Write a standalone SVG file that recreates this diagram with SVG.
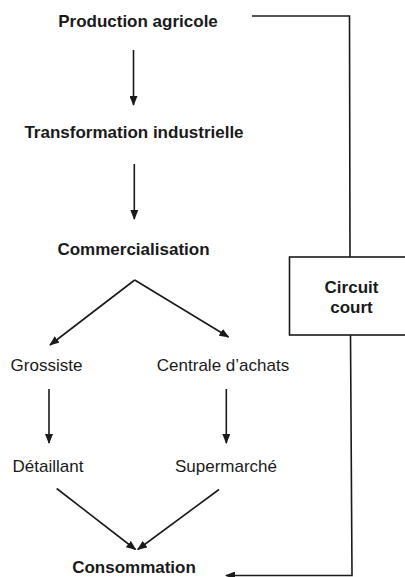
<svg xmlns="http://www.w3.org/2000/svg" width="405" height="577" viewBox="0 0 405 577">
<style>
text{font-family:"Liberation Sans",Arial,sans-serif;font-size:17px;fill:#1a1a1a}
.b{font-weight:bold}
.m{text-anchor:middle}
.ln{stroke:#1a1a1a;stroke-width:1.6;fill:none}
</style>
<defs>
<marker id="ah" markerWidth="10" markerHeight="8" refX="9" refY="4" orient="auto" markerUnits="userSpaceOnUse">
<path d="M0,0 L10,4 L0,8 Z" fill="#1a1a1a"/>
</marker>
</defs>
<rect width="405" height="577" fill="#fff"/>
<g id="n-production"><text class="b m" x="138" y="27">Production agricole</text></g>
<g id="n-transformation"><text class="b m" x="134" y="138">Transformation industrielle</text></g>
<g id="n-commercialisation"><text class="b m" x="133.5" y="255">Commercialisation</text></g>
<g id="n-grossiste"><text class="m" x="46.5" y="371">Grossiste</text></g>
<g id="n-centrale"><text class="m" x="223" y="371">Centrale d’achats</text></g>
<g id="n-detaillant"><text class="m" x="48" y="472">Détaillant</text></g>
<g id="n-supermarche"><text class="m" x="226" y="472">Supermarché</text></g>
<g id="n-consommation"><text class="b m" x="134" y="573">Consommation</text></g>
<g id="n-circuit"><rect class="ln" x="289.5" y="257" width="118" height="78"/><text class="b m" x="351.5" y="293">Circuit</text><text class="b m" x="351.5" y="313">court</text></g>
<g id="connectors">
<line class="ln" x1="133.5" y1="50" x2="133.5" y2="105" marker-end="url(#ah)"/>
<line class="ln" x1="134.3" y1="164" x2="134.3" y2="219" marker-end="url(#ah)"/>
<line class="ln" x1="134.7" y1="280" x2="50" y2="345" marker-end="url(#ah)"/>
<line class="ln" x1="134.7" y1="280" x2="228.5" y2="337" marker-end="url(#ah)"/>
<line class="ln" x1="49" y1="389" x2="49" y2="443" marker-end="url(#ah)"/>
<line class="ln" x1="226.3" y1="389" x2="226.3" y2="443" marker-end="url(#ah)"/>
<line class="ln" x1="56.7" y1="488.5" x2="135.5" y2="549.5" marker-end="url(#ah)"/>
<line class="ln" x1="219" y1="489.5" x2="137.8" y2="549.5" marker-end="url(#ah)"/>
<polyline class="ln" points="252,16 349.5,16 350,257"/>
<polyline class="ln" points="350.5,335 352,575.5 226,575.5" marker-end="url(#ah)"/>
</g>
</svg>
